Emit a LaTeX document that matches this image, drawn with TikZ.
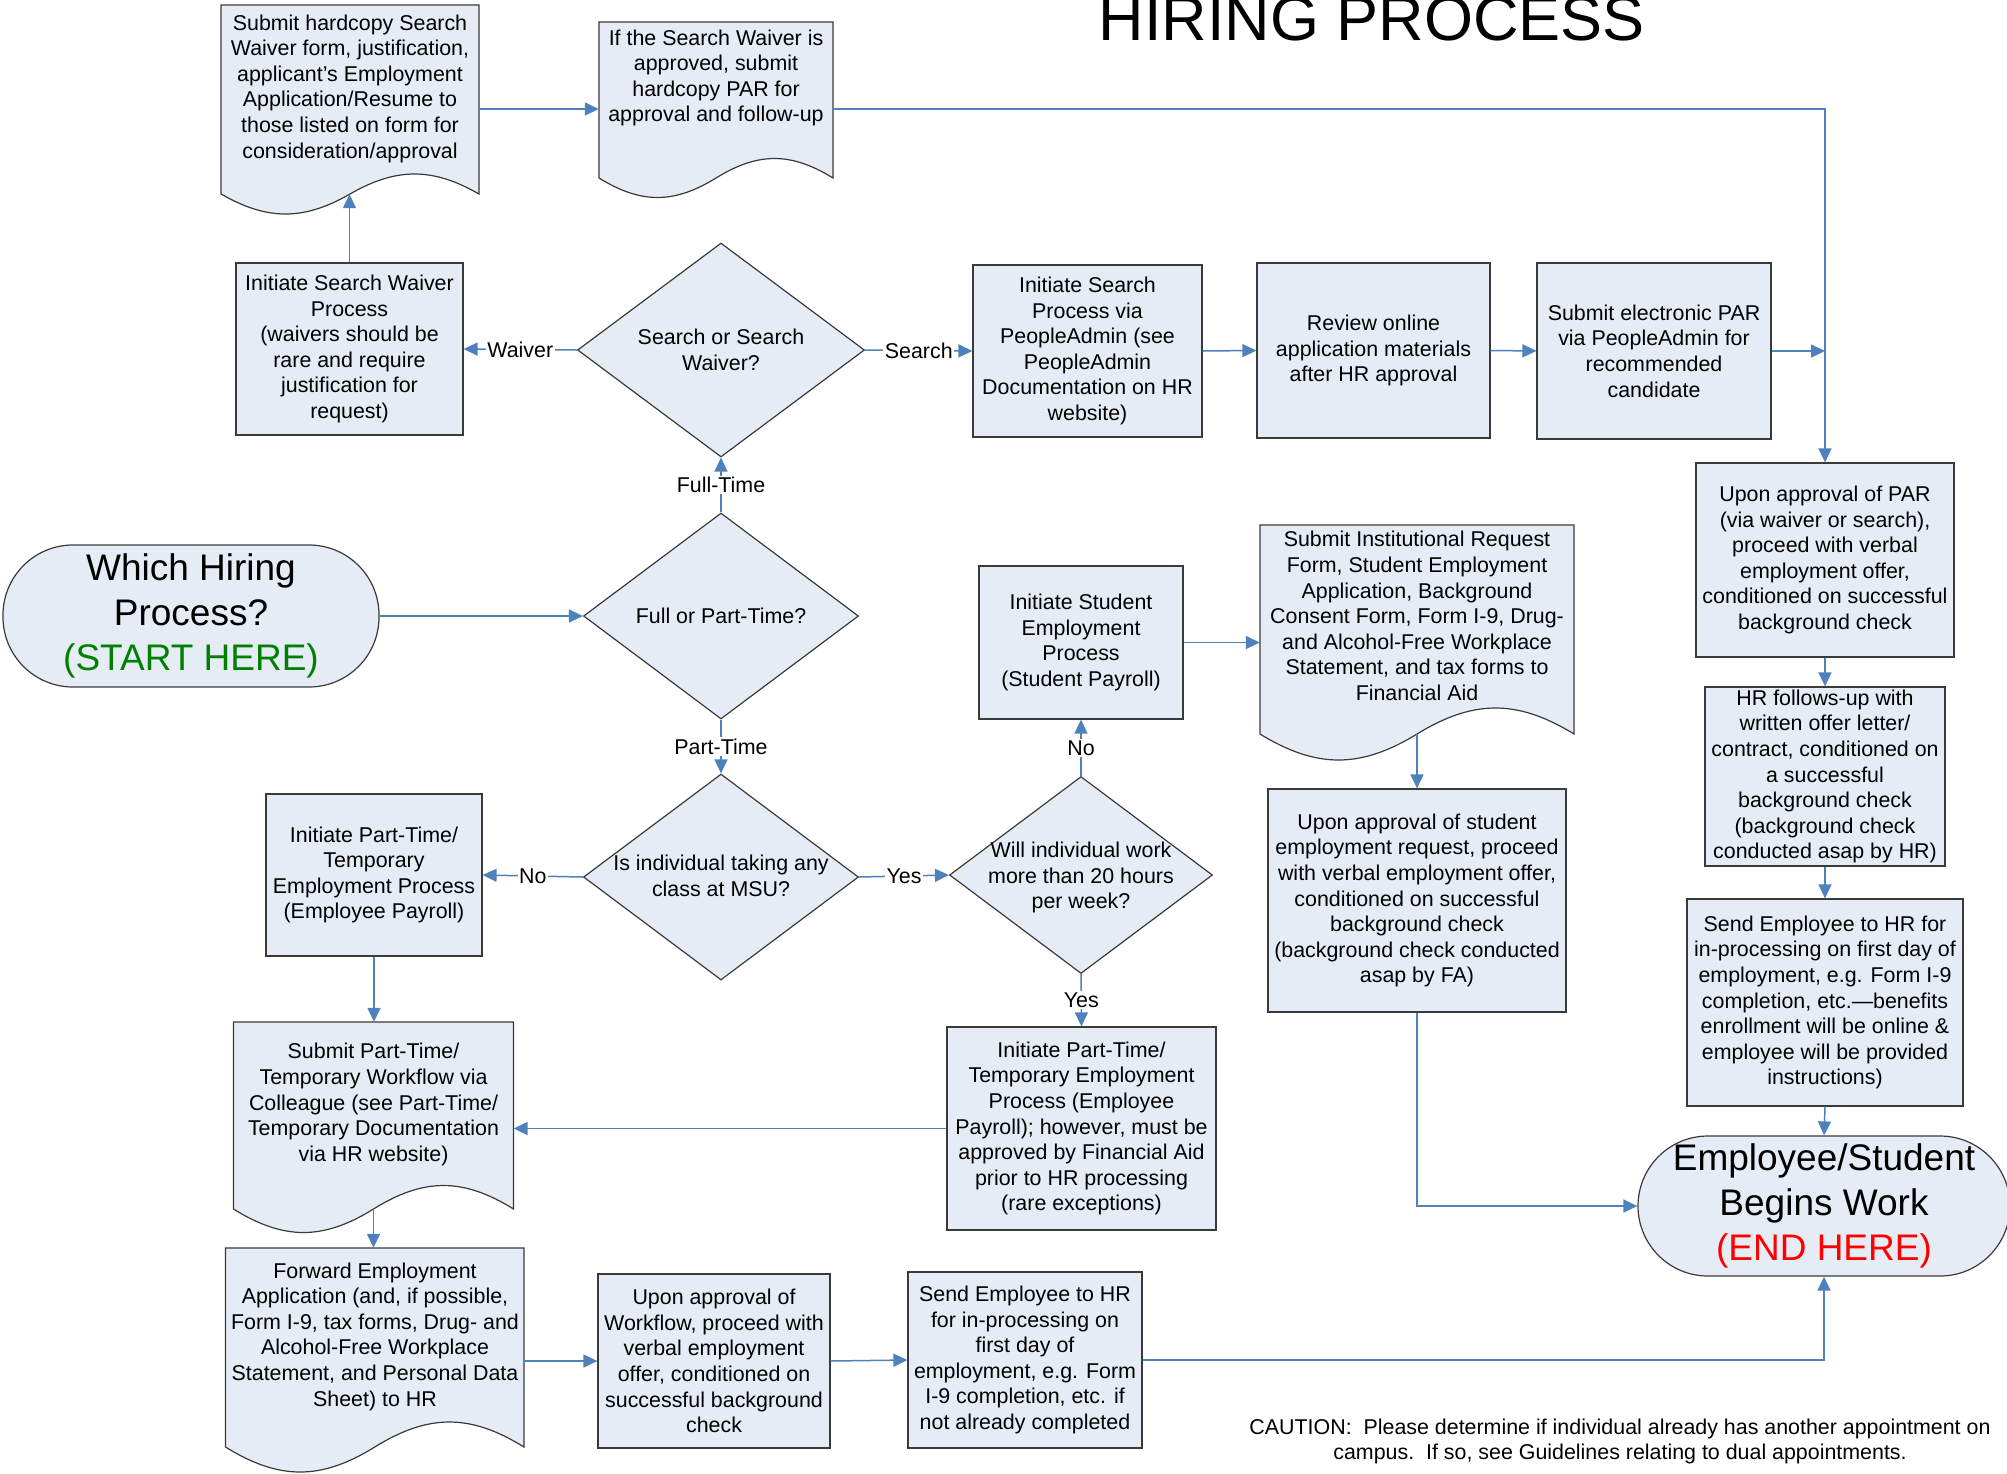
\documentclass[tikz,border=0pt]{standalone}
\usepackage{fontspec}
\setmainfont{Liberation Sans}
\usetikzlibrary{shapes.geometric,arrows.meta,calc}
\definecolor{boxfill}{HTML}{E6ECF6}
\definecolor{conncol}{HTML}{4F81BD}
\definecolor{edgecol}{HTML}{3A3A3A}
\definecolor{startgreen}{HTML}{008000}
\definecolor{endred}{HTML}{FF0000}
\newcommand\bodyfs{\fontsize{21.4}{25.6}\selectfont}
\newcommand\termfs{\fontsize{37}{44.8}\selectfont}
% document outline: L R T B amplitude
\newcommand\docoutline[5]{%
 \path[docline] (#1,#3) -- (#2,#3) -- (#2,#4)
   .. controls ({#2-0.18*(#2-#1)},{#4-1.333*#5}) and ({(#1+#2)/2+0.18*(#2-#1)},{#4-1.333*#5}) .. ({(#1+#2)/2},#4)
   .. controls ({(#1+#2)/2-0.18*(#2-#1)},{#4+1.333*#5}) and ({#1+0.18*(#2-#1)},{#4+1.333*#5}) .. (#1,#4) -- cycle;}
\begin{document}
\begin{tikzpicture}[x=1pt,y=-1pt,
  box/.style={rectangle, draw=edgecol, fill=boxfill, line width=1.2pt, inner sep=0pt, align=center, font=\bodyfs},
  dia/.style={diamond, draw=edgecol, fill=boxfill, line width=1.2pt, inner sep=0pt},
  docnode/.style={rectangle, inner sep=0pt},
  docline/.style={draw=edgecol, fill=boxfill, line width=1.2pt},
  term/.style={rectangle, rounded corners=70pt, draw=edgecol, fill=boxfill, line width=1.2pt, inner sep=0pt, align=center, font=\termfs},
  txt/.style={align=center, inner sep=0pt, font=\bodyfs},
  conn/.style={draw=conncol, line width=1.5pt, -{Triangle[length=14pt,width=13pt]}},
  lbl/.style={fill=white, inner sep=1.5pt, font=\bodyfs},
]
\useasboundingbox (0,0) rectangle (2007,1473);

% title
\node[anchor=base, inner sep=0pt, font=\fontsize{63}{70}\selectfont] (title) at (1372,40) {HIRING PROCESS};

% document outlines
\docoutline{221}{479}{5}{194}{20}
\docoutline{599}{833}{22}{178}{19.5}
\docoutline{233.5}{513.5}{1022}{1209}{23.5}
\docoutline{225.5}{524}{1248}{1447}{25}
\docoutline{1260}{1574}{525}{734}{26}

% document nodes (outline frames) and their texts
\node[docnode, minimum width=258, minimum height=189] (doc1) at (350,99.5) {};
\node[txt] (doc1t) at (350,88.5) {Submit hardcopy Search\\Waiver form, justification,\\applicant’s Employment\\Application/Resume to\\those listed on form for\\consideration/approval};
\node[docnode, minimum width=234, minimum height=156] (doc2) at (716,100) {};
\node[txt] (doc2t) at (716,78) {If the Search Waiver is\\approved, submit\\hardcopy PAR for\\approval and follow-up};
\node[docnode, minimum width=280, minimum height=187] (doc15) at (373.5,1115.5) {};
\node[txt] (doc15t) at (373.5,1104.5) {Submit Part-Time/\\Temporary Workflow via\\Colleague (see Part-Time/\\Temporary Documentation\\via HR website)};
\node[docnode, minimum width=298.5, minimum height=199] (doc16) at (374.75,1347.5) {};
\node[txt] (doc16t) at (375,1336.5) {Forward Employment\\Application (and, if possible,\\Form I-9, tax forms, Drug- and\\Alcohol-Free Workplace\\Statement, and Personal Data\\Sheet) to HR};
\node[docnode, minimum width=314, minimum height=209] (doc20) at (1417,629.5) {};
\node[txt] (doc20t) at (1417,616) {Submit Institutional Request\\Form, Student Employment\\Application, Background\\Consent Form, Form I-9, Drug-\\and Alcohol-Free Workplace\\Statement, and tax forms to\\Financial Aid};

% process boxes
\node[box, minimum width=227, minimum height=172] (swbox) at (349.5,349) {Initiate Search Waiver\\Process\\(waivers should be\\rare and require\\justification for\\request)};
\node[box, minimum width=229, minimum height=172] (sbox) at (1087.5,351) {Initiate Search\\Process via\\PeopleAdmin (see\\PeopleAdmin\\Documentation on HR\\website)};
\node[box, minimum width=233, minimum height=175] (rbox) at (1373.5,350.5) {Review online\\application materials\\after HR approval};
\node[box, minimum width=234, minimum height=176] (pbox) at (1654,351) {Submit electronic PAR\\via PeopleAdmin for\\recommended\\candidate};
\node[box, minimum width=216, minimum height=162] (ptbox) at (374,875) {Initiate Part-Time/\\Temporary\\Employment Process\\(Employee Payroll)};
\node[box, minimum width=204, minimum height=153] (stubox) at (1081,642.5) {Initiate Student\\Employment\\Process\\(Student Payroll)};
\node[box, minimum width=269, minimum height=203] (faybox) at (1081.5,1128.5) {Initiate Part-Time/\\Temporary Employment\\Process (Employee\\Payroll); however, must be\\approved by Financial Aid\\prior to HR processing\\(rare exceptions)};
\node[box, minimum width=298, minimum height=223] (sabox) at (1417,900.5) {Upon approval of student\\employment request, proceed\\with verbal employment offer,\\conditioned on successful\\background check\\(background check conducted\\asap by FA)};
\node[box, minimum width=232, minimum height=174] (wfbox) at (714,1361) {Upon approval of\\Workflow, proceed with\\verbal employment\\offer, conditioned on\\successful background\\check};
\node[box, minimum width=234, minimum height=176] (hrbox) at (1025,1360) {Send Employee to HR\\for in-processing on\\first day of\\employment, e.g. Form\\I-9 completion, etc. if\\not already completed};
\node[box, minimum width=258, minimum height=194] (parbox) at (1825,560) {Upon approval of PAR\\(via waiver or search),\\proceed with verbal\\employment offer,\\conditioned on successful\\background check};
\node[box, minimum width=240, minimum height=179] (hrfbox) at (1825,776.5) {HR follows-up with\\written offer letter/\\contract, conditioned on\\a successful\\background check\\(background check\\conducted asap by HR)};
\node[box, minimum width=276, minimum height=207] (sendbox) at (1825,1002.5) {Send Employee to HR for\\in-processing on first day of\\employment, e.g. Form I-9\\completion, etc.—benefits\\enrollment will be online \&\\employee will be provided\\instructions)};

% decisions
\node[dia, minimum width=287, minimum height=214] (d1) at (721,350) {};
\node[txt] (d1t) at (721,350) {Search or Search\\Waiver?};
\node[dia, minimum width=275, minimum height=206] (d2) at (721,616) {};
\node[txt] (d2t) at (721,616) {Full or Part-Time?};
\node[dia, minimum width=275, minimum height=206] (d3) at (721,877) {};
\node[txt] (d3t) at (721,876) {Is individual taking any\\class at MSU?};
\node[dia, minimum width=263, minimum height=197] (d4) at (1081,875) {};
\node[txt] (d4t) at (1081,877.5) {Will individual work\\more than 20 hours\\per week?};

% terminals
\node[term, minimum width=376, minimum height=142] (start) at (191,616) {Which Hiring\\Process?\\{\color{startgreen}(START HERE)}};
\node[term, minimum width=372, minimum height=140] (endt) at (1824,1206) {Employee/Student\\Begins Work\\{\color{endred}(END HERE)}};

% caution
\node[txt, font=\fontsize{21.4}{25}\selectfont] (caution) at (1620,1441) {CAUTION:\ \ Please determine if individual already has another appointment on\\campus.\ \ If so, see Guidelines relating to dual appointments.};

% connectors
\coordinate (yA) at (0,109);
\draw[conn] (swbox.north) -- (swbox.north |- doc1.south);
\draw[conn] (doc1.east |- yA) -- (doc2.west |- yA);
\draw[conn] (doc2.east |- yA) -| (parbox.north);
\draw[conn] (d1.west) -- node[lbl] (lwaiver) {Waiver} (swbox.east);
\draw[conn] (d1.east) -- node[lbl] (lsearch) {Search} (sbox.west);
\draw[conn] (sbox.east) -- (rbox.west);
\draw[conn] (rbox.east) -- (pbox.west);
\draw[conn] (pbox.east) -- (pbox.east -| parbox.north);
\draw[conn] (d2.north) -- node[lbl] (lfull) {Full-Time} (d1.south);
\draw[conn] (start.east) -- (d2.west);
\draw[conn] (d2.south) -- node[lbl] (lpart) {Part-Time} (d3.north);
\draw[conn] (d3.west) -- node[lbl] (lno1) {No} (ptbox.east);
\draw[conn] (d3.east) -- node[lbl] (lyes1) {Yes} (d4.west);
\draw[conn] (d4.north) -- node[lbl] (lno2) {No} (stubox.south);
\draw[conn] (d4.south) -- node[lbl] (lyes2) {Yes} (faybox.north);
\draw[conn] (stubox.east) -- (stubox.east -| doc20.west);
\draw[conn] (doc20.south) -- (sabox.north);
\draw[conn] (sabox.south) |- (endt.west);
\draw[conn] (parbox.south) -- (hrfbox.north);
\draw[conn] (hrfbox.south) -- (sendbox.north);
\draw[conn] (sendbox.south) -- (endt.north);
\draw[conn] (ptbox.south) -- (ptbox.south |- doc15.north);
\draw[conn] (faybox.west) -- (faybox.west -| doc15.east);
\draw[conn] (doc15.south) -- (doc15.south |- doc16.north);
\draw[conn] (doc16.east |- wfbox.west) -- (wfbox.west);
\draw[conn] (wfbox.east) -- (hrbox.west);
\draw[conn] (hrbox.east) -| (endt.south);
\end{tikzpicture}
\end{document}
